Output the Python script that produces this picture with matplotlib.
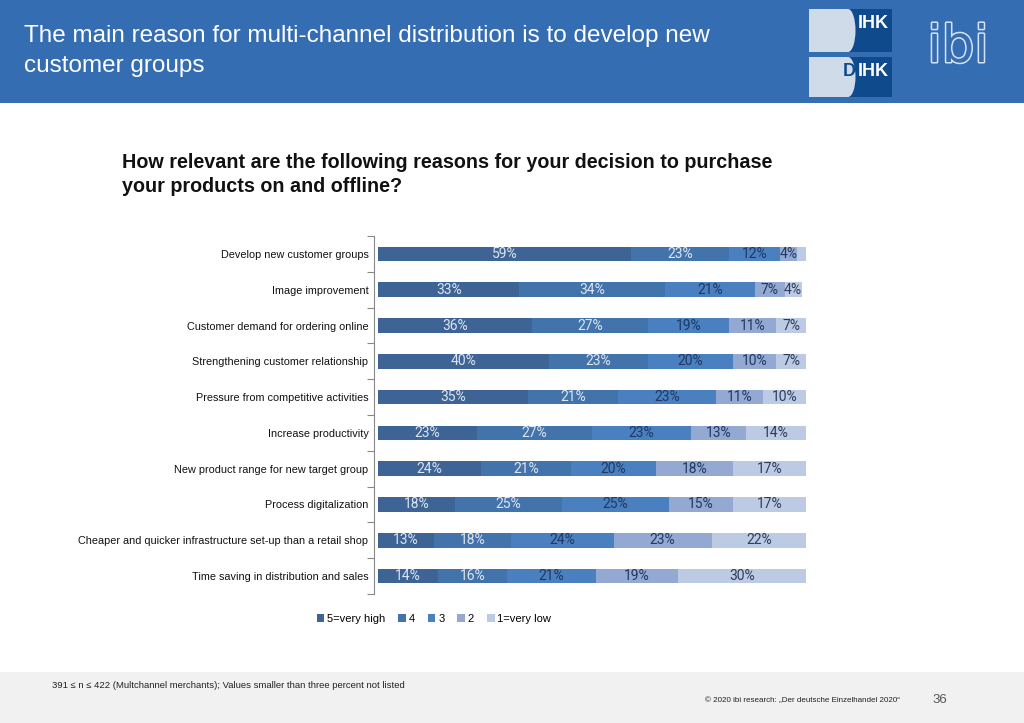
import matplotlib
matplotlib.use("Agg")
import matplotlib.pyplot as plt
import matplotlib.patheffects as pe
from matplotlib.patches import Rectangle, Ellipse
import numpy as np

categories = [
    "Develop new customer groups",
    "Image improvement",
    "Customer demand for ordering online",
    "Strengthening customer relationship",
    "Pressure from competitive activities",
    "Increase productivity",
    "New product range for new target group",
    "Process digitalization",
    "Cheaper and quicker infrastructure set-up than a retail shop",
    "Time saving in distribution and sales",
]
series_names = ["5=very high", "4", "3", "2", "1=very low"]
very_high = [59, 33, 36, 40, 35, 23, 24, 18, 13, 14]
level4 = [23, 34, 27, 23, 21, 27, 21, 25, 18, 16]
level3 = [12, 21, 19, 20, 23, 23, 20, 25, 24, 21]
level2 = [4, 7, 11, 10, 11, 13, 18, 15, 23, 19]
very_low = [2, 4, 7, 7, 10, 14, 17, 17, 22, 30]

series = [very_high, level4, level3, level2, very_low]
colors = ["#3d6494", "#4373ab", "#4a80bf", "#93a9d2", "#bccae3"]
text_colors = ["#dce5f1", "#dce5f1", "#1f3864", "#1f3864", "#2b3c5e"]

W, H = 1024, 723
fig = plt.figure(figsize=(W / 100, H / 100), dpi=100)
fig.patch.set_facecolor("white")

def px(x, y):
    return x / W, 1 - y / H

# Header band
fig.patches.append(Rectangle((0, 1 - 103 / H), 1, 103 / H, transform=fig.transFigure,
                             facecolor="#356db3", edgecolor="none", zorder=0))
fig.text(24 / W, 1 - 36 / H, "The main reason for multi-channel distribution is to develop new",
         color="white", fontsize=17.5, family="Liberation Sans", va="center", ha="left")
fig.text(24 / W, 1 - 66 / H, "customer groups",
         color="white", fontsize=17.5, family="Liberation Sans", va="center", ha="left")

# IHK / DIHK logo
navy = "#0f4a8c"
light = "#d0dbe9"
for (y0, y1, left_txt) in [(9, 52, ""), (57, 97, "D")]:
    x0, yb = px(809, y1)
    fig.patches.append(Rectangle((x0, yb), (892 - 809) / W, (y1 - y0) / H,
                                 transform=fig.transFigure, facecolor=navy,
                                 edgecolor="none", zorder=1))
    fig.patches.append(Rectangle((x0, yb), (848 - 809) / W, (y1 - y0) / H,
                                 transform=fig.transFigure, facecolor=light,
                                 edgecolor="none", zorder=2))
    cx, cy = px(848, (y0 + y1) / 2)
    fig.patches.append(Ellipse((cx, cy), 15 / W, (y1 - y0) / H,
                               transform=fig.transFigure, facecolor=light,
                               edgecolor="none", zorder=2))
    tx, ty = px(889, y0 + 15)
    fig.text(tx, ty, "IHK", color="white", fontsize=13, fontweight="bold",
             family="Liberation Sans", ha="right", va="center", zorder=3)
    if left_txt:
        tx, ty = px(856, y0 + 15)
        fig.text(tx, ty, left_txt, color=navy, fontsize=13, fontweight="bold",
                 family="Liberation Sans", ha="right", va="center", zorder=3)

# ibi logo (outlined)
tx, ty = px(958, 48)
fig.text(tx, ty, "ibi", color="#356db3", fontsize=37, family="DejaVu Sans",
         ha="center", va="center", zorder=3,
         path_effects=[pe.Stroke(linewidth=2.2, foreground="#d7e3f4"), pe.Normal()])

# Subtitle
fig.text(122 / W, 1 - 162 / H, "How relevant are the following reasons for your decision to purchase",
         color="#111111", fontsize=14.2, fontweight="bold", family="Liberation Sans",
         va="center", ha="left")
fig.text(122 / W, 1 - 186 / H, "your products on and offline?",
         color="#111111", fontsize=14.2, fontweight="bold", family="Liberation Sans",
         va="center", ha="left")

# Chart axes
ax_left, ax_right = 374, 806
ax_top, ax_bottom = 236, 594
ax = fig.add_axes([ax_left / W, 1 - ax_bottom / H, (ax_right - ax_left) / W, (ax_bottom - ax_top) / H])
ax.set_facecolor("none")

y = np.arange(len(categories))
left = np.zeros(len(categories))
for vals, c, tc in zip(series, colors, text_colors):
    vals = np.array(vals, dtype=float)
    ax.barh(y, vals, left=left, height=0.41, color=c, edgecolor="none")
    for yi, (l, v) in enumerate(zip(left, vals)):
        if v >= 3:
            ax.text(l + v / 2, yi, f"{int(v)}%", ha="center", va="center",
                    color=tc, fontsize=10, family="Roboto")
    left += vals

ax.set_xlim(-1, 100)
ax.set_ylim(len(categories) - 0.5, -0.5)
ax.set_yticks(y)
ax.set_yticklabels(categories, fontsize=7.8, family="Liberation Sans", color="#111111")
ax.set_yticks(np.arange(-0.5, len(categories), 1), minor=True)
ax.tick_params(axis="y", which="major", length=0, pad=4)
ax.tick_params(axis="y", which="minor", length=5, color="#888888", width=0.8)
ax.set_xticks([])
for s in ["top", "right", "bottom"]:
    ax.spines[s].set_visible(False)
ax.spines["left"].set_color("#888888")
ax.spines["left"].set_linewidth(0.8)

# Legend
handles = [Rectangle((0, 0), 1, 1, facecolor=c, edgecolor="none") for c in colors]
fig.legend(handles, series_names, loc="center", bbox_to_anchor=(434 / W, 1 - 619 / H),
           ncol=5, frameon=False, handlelength=0.7, handleheight=0.7,
           handletextpad=0.25, columnspacing=1.15,
           prop={"family": "Liberation Sans", "size": 8})

# Footer band
fig.patches.append(Rectangle((0, 0), 1, (H - 672) / H, transform=fig.transFigure,
                             facecolor="#f1f1f1", edgecolor="none", zorder=0))
fig.text(52 / W, 1 - 685 / H,
         "391 \u2264 n \u2264 422 (Multchannel merchants); Values smaller than three percent not listed",
         fontsize=6.8, family="Liberation Sans", color="#222222", va="center", ha="left")
fig.text(900 / W, 1 - 701 / H,
         "\u00a9 2020 ibi research: \u201eDer deutsche Einzelhandel 2020\u201c",
         fontsize=5.8, family="Liberation Sans", color="#222222", va="center", ha="right")
fig.text(940 / W, 1 - 700 / H, "36", fontsize=9.5, family="Liberation Sans",
         color="#555555", va="center", ha="center")

fig.savefig("out.png", dpi=100)
